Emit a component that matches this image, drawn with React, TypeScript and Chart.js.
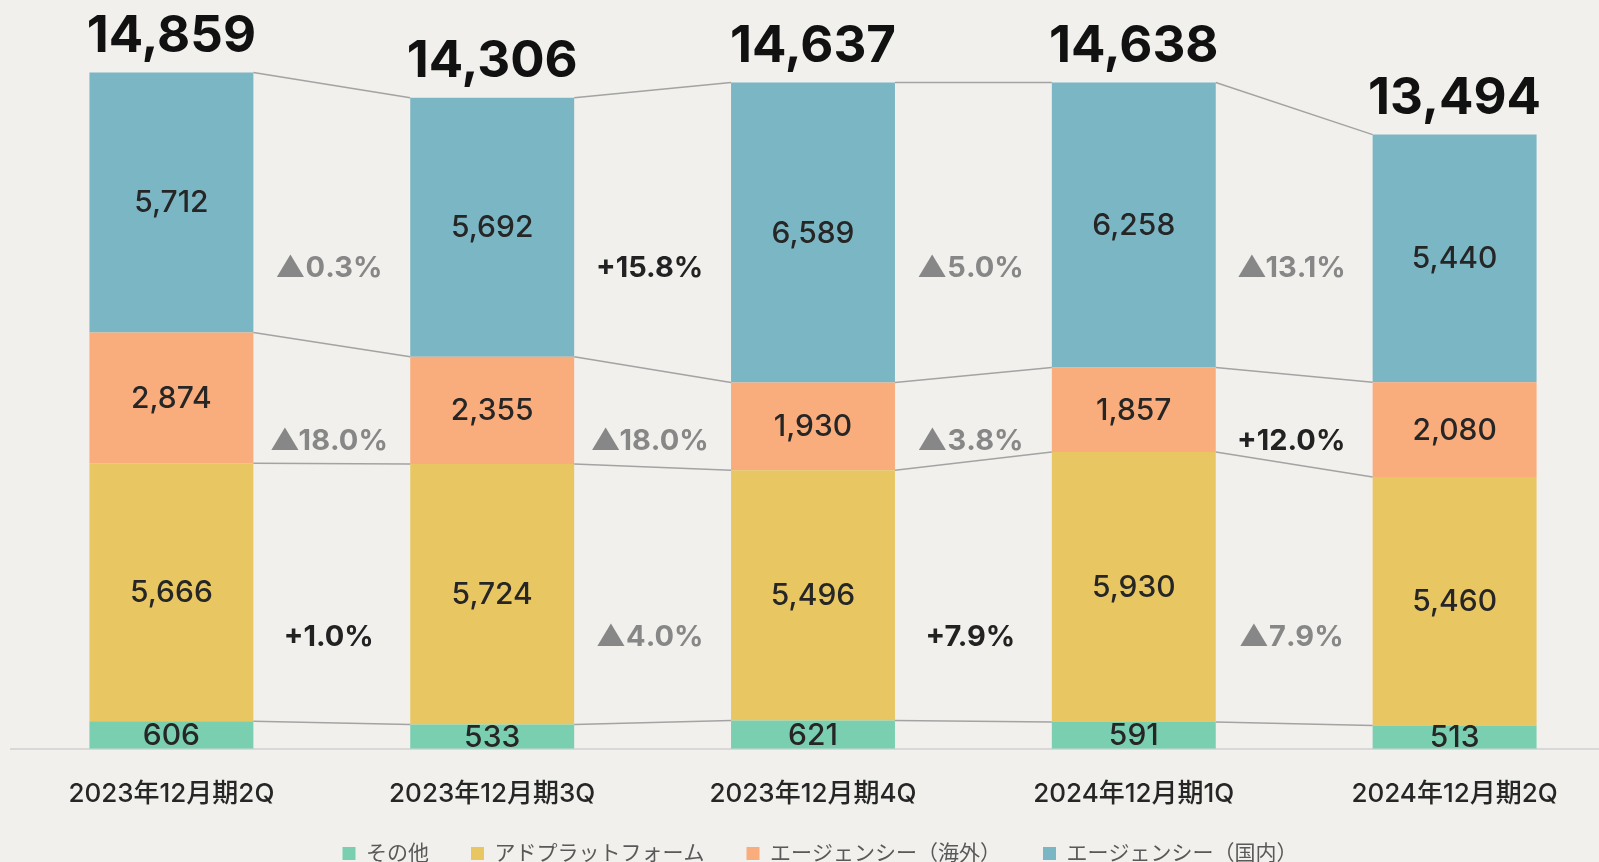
import { useEffect, useRef } from 'react';
import { Chart, registerables } from 'chart.js';

Chart.register(...registerables);

const categories = ['2023年12月期2Q', '2023年12月期3Q', '2023年12月期4Q', '2024年12月期1Q', '2024年12月期2Q'];
const seriesNames = ['その他', 'アドプラットフォーム', 'エージェンシー（海外）', 'エージェンシー（国内）'];
const otherValues = [606, 533, 621, 591, 513];
const adPlatformValues = [5666, 5724, 5496, 5930, 5460];
const agencyOverseasValues = [2874, 2355, 1930, 1857, 2080];
const agencyDomesticValues = [5712, 5692, 6589, 6258, 5440];
const totalValues = [14859, 14306, 14637, 14638, 13494];
const domesticChanges = ['▲0.3%', '+15.8%', '▲5.0%', '▲13.1%'];
const overseasChanges = ['▲18.0%', '▲18.0%', '▲3.8%', '+12.0%'];
const adPlatformChanges = ['+1.0%', '▲4.0%', '+7.9%', '▲7.9%'];

const COLORS = ['#79cfb0', '#e8c763', '#f9ac7c', '#7bb6c4'];
const BG = '#f1f0ec';
const FONT = "Inter, 'Noto Sans CJK JP', sans-serif";

const fmt = (v: number) => v.toLocaleString('en-US');

const overlayPlugin = {
  id: 'overlay',
  afterLayout(chart: any) {
    if (chart.legend) {
      chart.legend.left += 7;
      chart.legend.right += 7;
      chart.legend.top -= 39;
      chart.legend.bottom -= 39;
    }
  },
  afterDatasetsDraw(chart: any) {
    const ctx = chart.ctx as CanvasRenderingContext2D;
    const yScale = chart.scales.y;
    const metas = chart.data.datasets.map((_: any, i: number) => chart.getDatasetMeta(i));
    ctx.save();
    // connector lines
    ctx.strokeStyle = '#a3a3a3';
    ctx.lineWidth = 1.5;
    metas.forEach((meta: any) => {
      for (let i = 0; i < meta.data.length - 1; i++) {
        const a = meta.data[i];
        const b = meta.data[i + 1];
        ctx.beginPath();
        ctx.moveTo(a.x + a.width / 2, a.y);
        ctx.lineTo(b.x - b.width / 2, b.y);
        ctx.stroke();
      }
    });
    // segment values
    ctx.textAlign = 'center';
    ctx.textBaseline = 'middle';
    ctx.font = `500 30px ${FONT}`;
    ctx.fillStyle = '#262626';
    metas.forEach((meta: any, di: number) => {
      const vals = chart.data.datasets[di].data as number[];
      meta.data.forEach((bar: any, i: number) => {
        ctx.fillText(fmt(vals[i]), bar.x, (bar.y + bar.base) / 2 + 1);
      });
    });
    // totals
    const topMeta = metas[metas.length - 1];
    ctx.font = `bold 51px ${FONT}`;
    ctx.fillStyle = '#111111';
    topMeta.data.forEach((bar: any, i: number) => {
      ctx.fillText(fmt(totalValues[i]), bar.x, bar.y - 36);
    });
    // change labels
    const rows: [string[], number][] = [
      [domesticChanges, 10560],
      [overseasChanges, 6760],
      [adPlatformChanges, 2440],
    ];
    ctx.font = `bold 29px ${FONT}`;
    rows.forEach(([labels, v]) => {
      const y = yScale.getPixelForValue(v);
      labels.forEach((txt, i) => {
        const a = topMeta.data[i];
        const b = topMeta.data[i + 1];
        ctx.fillStyle = txt.startsWith('▲') ? '#878787' : '#222222';
        ctx.fillText(txt, (a.x + b.x) / 2 - 3, y);
      });
    });
    ctx.restore();
  },
};

export default function App() {
  const ref = useRef<HTMLCanvasElement | null>(null);
  useEffect(() => {
    if (!ref.current) return;
    Chart.defaults.font.family = FONT;
    const seriesData = [otherValues, adPlatformValues, agencyOverseasValues, agencyDomesticValues];
    const chart = new Chart(ref.current, {
      type: 'bar',
      data: {
        labels: categories,
        datasets: seriesData.map((d, i) => ({
          label: seriesNames[i],
          data: d,
          backgroundColor: COLORS[i],
          borderWidth: 0,
          categoryPercentage: 1,
          barPercentage: 0.511,
        })),
      },
      options: {
        animation: false,
        responsive: true,
        maintainAspectRatio: false,
        events: [],
        layout: { padding: { left: 11, right: 11, top: 0, bottom: 0 } },
        scales: {
          x: {
            stacked: true,
            grid: { display: false, drawTicks: false },
            border: { display: true, color: '#d8d8d8', width: 2 },
            ticks: { padding: 30, color: '#262626', font: { size: 26, weight: 500 } },
          },
          y: {
            stacked: true,
            display: false,
            min: 0,
            max: 16450,
          },
        },
        plugins: {
          tooltip: { enabled: false },
          legend: {
            position: 'bottom',
            labels: {
              boxWidth: 13,
              boxHeight: 13,
              padding: 42,
              color: '#595959',
              font: { size: 21 },
            },
          },
        },
      },
      plugins: [overlayPlugin],
    });
    return () => chart.destroy();
  }, []);
  return (
    <div style={{ position: 'fixed', left: 0, top: 0, width: '100vw', height: '100vh', overflow: 'hidden', background: BG }}>
      <div style={{ position: 'absolute', left: 0, top: 0, width: 1626, height: 913 }}>
        <canvas ref={ref} />
      </div>
    </div>
  );
}
